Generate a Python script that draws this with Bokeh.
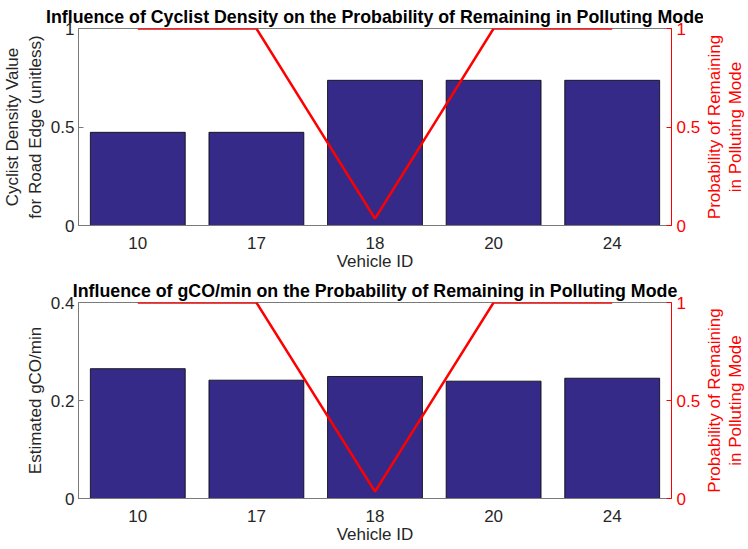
import math
from bokeh.plotting import figure
from bokeh.models import FactorRange, Range1d, LinearAxis, FixedTicker, Title
from bokeh.layouts import column, row
from bokeh.core.properties import value
from bokeh.embed import file_html
from bokeh.resources import INLINE

vehicles = ["10", "17", "18", "20", "24"]
cyclist_density = [0.473, 0.473, 0.737, 0.737, 0.737]
gco_per_min = [0.265, 0.2415, 0.249, 0.2395, 0.2455]
prob_polluting = [1.0, 1.0, 0.035, 1.0, 1.0]

title_top = "Influence of Cyclist Density on the Probability of Remaining in Polluting Mode"
title_bottom = "Influence of gCO/min on the Probability of Remaining in Polluting Mode"
ylabel_top = "Cyclist Density Value\nfor Road Edge (unitless)"
ylabel_bottom = "Estimated gCO/min"
ylabel_right = "Probability of Remaining\nin Polluting Mode"
xlabel = "Vehicle ID"

FONT = "Liberation Sans"
BAR = "#352A87"
RED = "#FF0000"
AXC = "#7a7a7a"
TXT = "#262626"
TICK_FS = "17px"
LABEL_FS = "17px"
FW = 593
XAXIS_H = 50
SIDE_W = 44


def make(bars, ymax, yticks, title, ylabel, mb_top, fh, mb_left):
    p = figure(x_range=FactorRange(*vehicles, range_padding=0),
               y_range=Range1d(0, ymax),
               frame_width=FW, frame_height=fh,
               min_border_left=mb_left, min_border_right=30,
               min_border_top=mb_top, min_border_bottom=XAXIS_H,
               output_backend="svg", toolbar_location=None, title=None)
    p.add_layout(Title(text=title, align="center", text_font=FONT,
                       text_font_size="17.8px", text_font_style="bold",
                       text_color="black", standoff=4, offset=0), "above")
    p.extra_y_ranges = {"prob": Range1d(0, 1)}
    p.vbar(x=vehicles, top=bars, width=0.8, fill_color=BAR,
           line_color="black", line_width=0.8)
    p.line(x=vehicles, y=prob_polluting, y_range_name="prob",
           line_color=RED, line_width=2.5)
    p.xgrid.visible = False
    p.ygrid.visible = False
    p.outline_line_color = AXC
    p.outline_line_width = 1
    p.background_fill_color = "white"
    p.border_fill_color = "white"

    xa = p.xaxis[0]
    xa.axis_label = xlabel
    xa.axis_line_color = AXC
    xa.major_tick_in = 0
    xa.major_tick_out = 0
    xa.minor_tick_in = 0
    xa.minor_tick_out = 0
    xa.major_label_text_font = FONT
    xa.major_label_text_font_size = TICK_FS
    xa.major_label_text_color = TXT
    xa.axis_label_text_font = FONT
    xa.axis_label_text_font_size = LABEL_FS
    xa.axis_label_text_font_style = "normal"
    xa.axis_label_text_color = TXT
    xa.major_label_standoff = 11
    xa.axis_label_standoff = 0

    ya = p.yaxis[0]
    ya.axis_label = ylabel
    ya.ticker = FixedTicker(ticks=yticks)
    ya.axis_line_color = AXC
    ya.major_tick_line_color = AXC
    ya.major_tick_in = 5
    ya.major_tick_out = 0
    ya.minor_tick_in = 0
    ya.minor_tick_out = 0
    ya.major_label_text_font = FONT
    ya.major_label_text_font_size = TICK_FS
    ya.major_label_text_color = TXT
    ya.major_label_standoff = 4
    ya.axis_label_text_font = FONT
    ya.axis_label_text_font_size = LABEL_FS
    ya.axis_label_text_font_style = "normal"
    ya.axis_label_text_color = TXT
    ya.axis_label_standoff = 3

    ra = LinearAxis(y_range_name="prob", ticker=FixedTicker(ticks=[0, 0.5, 1]))
    ra.axis_line_color = RED
    ra.major_tick_line_color = RED
    ra.major_tick_in = 5
    ra.major_tick_out = 0
    ra.minor_tick_in = 0
    ra.minor_tick_out = 0
    ra.major_label_text_font = FONT
    ra.major_label_text_font_size = TICK_FS
    ra.major_label_text_color = RED
    ra.major_label_standoff = 5
    p.add_layout(ra, "right")

    # side strip holding the rotated right-hand axis title
    s = figure(x_range=Range1d(0, SIDE_W), y_range=Range1d(0, 1),
               frame_width=SIDE_W, frame_height=fh,
               min_border_left=0, min_border_right=0,
               min_border_top=mb_top, min_border_bottom=XAXIS_H,
               x_axis_type=None, y_axis_type=None,
               output_backend="svg", toolbar_location=None)
    s.grid.visible = False
    s.outline_line_color = None
    s.border_fill_color = "white"
    s.background_fill_color = "white"
    s.text(x=[21.5], y=[0.5], text=[ylabel_right],
           angle=math.pi / 2, text_align="center", text_baseline="middle",
           text_line_height=1.15,
           text_font=value(FONT), text_font_size=LABEL_FS, text_color=RED)
    return row(p, s, spacing=0)


r1 = make(cyclist_density, 1.0, [0, 0.5, 1], title_top, ylabel_top, 28, 197, 70)
r2 = make(gco_per_min, 0.4, [0, 0.2, 0.4], title_bottom, ylabel_bottom, 27, 196, 78)

layout = column(r1, r2, spacing=0)
open("out.html", "w").write(file_html(layout, INLINE))
